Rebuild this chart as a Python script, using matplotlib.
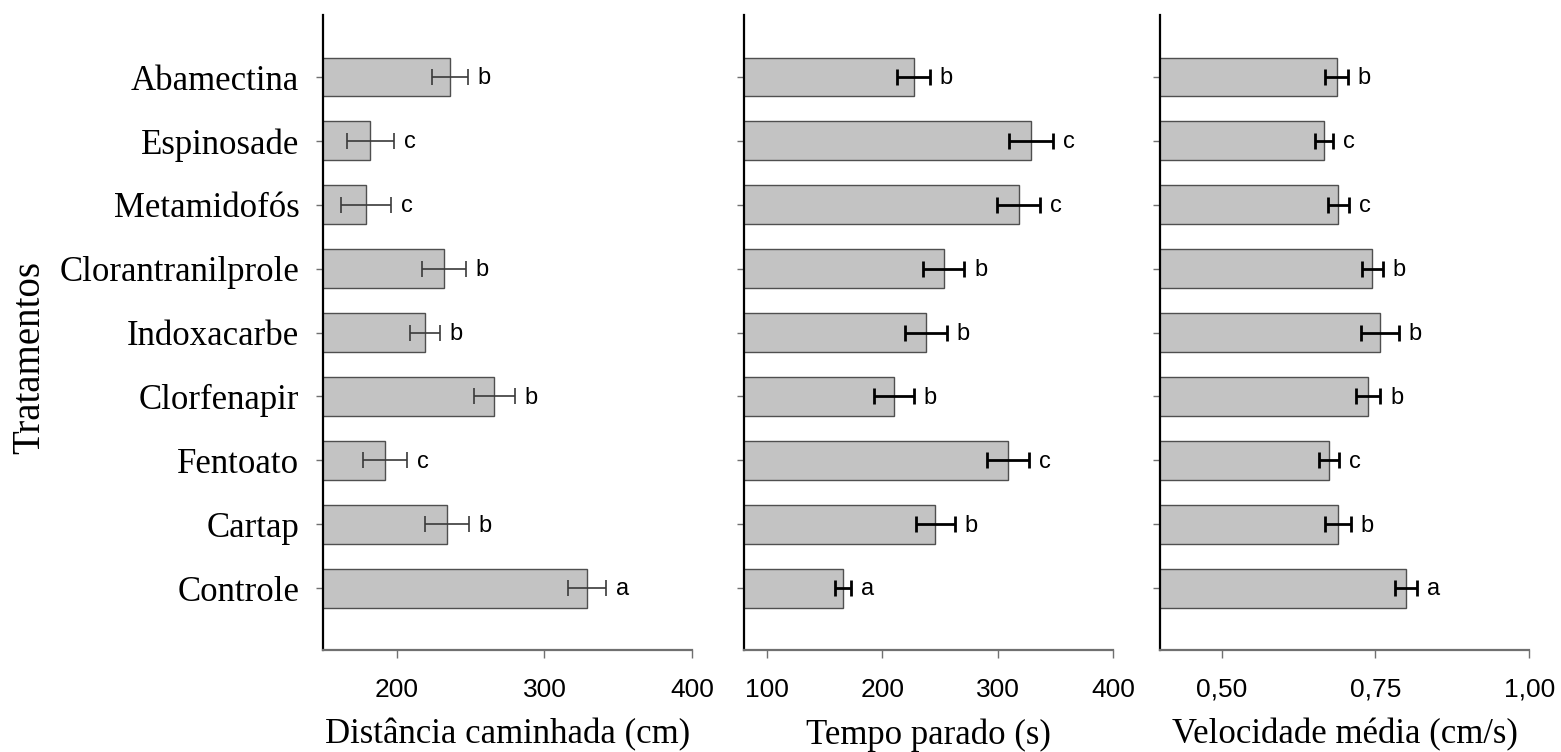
import matplotlib
matplotlib.use("Agg")
import matplotlib.pyplot as plt
import numpy as np

# Treatments, listed from the top of the chart downwards
treatments = ["Abamectina", "Espinosade", "Metamidofós", "Clorantranilprole",
              "Indoxacarbe", "Clorfenapir", "Fentoato", "Cartap", "Controle"]

dist_mean = [236, 182, 179, 232, 219, 266, 192, 234, 329]
dist_err = [12, 16, 17, 15, 10, 14, 15, 15, 13]
dist_letters = ["b", "c", "c", "b", "b", "b", "c", "b", "a"]

tempo_mean = [227, 329, 318, 253, 238, 210, 309, 246, 166]
tempo_err = [14, 19, 19, 18, 18, 17, 18, 17, 7]
tempo_letters = ["b", "c", "c", "b", "b", "b", "c", "b", "a"]

vel_mean = [0.687, 0.667, 0.690, 0.745, 0.757, 0.738, 0.675, 0.689, 0.800]
vel_err = [0.018, 0.015, 0.017, 0.017, 0.031, 0.020, 0.016, 0.021, 0.018]
vel_letters = ["b", "c", "c", "b", "b", "b", "c", "b", "a"]

serif = "Liberation Serif"
sans = "Liberation Sans"

fig = plt.figure(figsize=(15.61, 7.52), dpi=100)

panels = [
    # (left, means, errs, letters, xlim, ticks, ticklabels, xlabel, err style)
    (0.2069, dist_mean, dist_err, dist_letters, (150, 400), [200, 300, 400],
     ["200", "300", "400"], "Distância caminhada (cm)", ("#3a3a3a", 1.2)),
    (0.4766, tempo_mean, tempo_err, tempo_letters, (80, 400), [100, 200, 300, 400],
     ["100", "200", "300", "400"], "Tempo parado (s)", ("black", 2.0)),
    (0.7431, vel_mean, vel_err, vel_letters, (0.4, 1.0), [0.5, 0.75, 1.0],
     ["0,50", "0,75", "1,00"], "Velocidade média (cm/s)", ("black", 2.0)),
]

n = len(treatments)
ypos = np.arange(n)[::-1]  # Abamectina on top

for i, (left, means, errs, letters, xlim, ticks, tlabels, xlabel, (ecol, elw)) in enumerate(panels):
    ax = fig.add_axes([left, 0.1356, 0.2365, 0.8444])
    ax.barh(ypos, means, height=0.61, color="#c3c3c3", edgecolor="#4f4f4f", linewidth=1.0)
    ax.errorbar(means, ypos, xerr=errs, fmt="none", ecolor=ecol, elinewidth=elw,
                capsize=6, capthick=elw)
    for m, e, y, lt in zip(means, errs, ypos, letters):
        ax.annotate(lt, (m + e, y), xytext=(7, -1), textcoords="offset points",
                    ha="left", va="center", fontsize=17, family=sans)

    ax.set_xlim(*xlim)
    ax.set_ylim(-0.97, n - 1 + 0.97)
    ax.set_xticks(ticks)
    ax.set_xticklabels(tlabels, fontsize=19, family=sans)
    ax.tick_params(axis="x", direction="out", length=6, width=1, color="#707070", pad=14)
    ax.set_yticks(ypos)
    if i == 0:
        ax.set_yticklabels(treatments, fontsize=25, family=serif)
        ax.tick_params(axis="y", direction="out", length=5, width=1, color="#707070", pad=12)
    else:
        ax.set_yticklabels([])
        ax.tick_params(axis="y", direction="out", length=5, width=1, color="#707070")

    ax.set_xlabel(xlabel, fontsize=25, family=serif, labelpad=12)

    for s in ["top", "right"]:
        ax.spines[s].set_visible(False)
    ax.spines["left"].set_color("black")
    ax.spines["left"].set_linewidth(1.6)
    ax.spines["bottom"].set_color("#707070")
    ax.spines["bottom"].set_linewidth(1.6)

fig.text(30 / 1561, 1 - 358 / 752, "Tratamentos", rotation=90, fontsize=28,
         family=serif, ha="center", va="center")

fig.savefig("out.png", dpi=100)
plt.close(fig)
